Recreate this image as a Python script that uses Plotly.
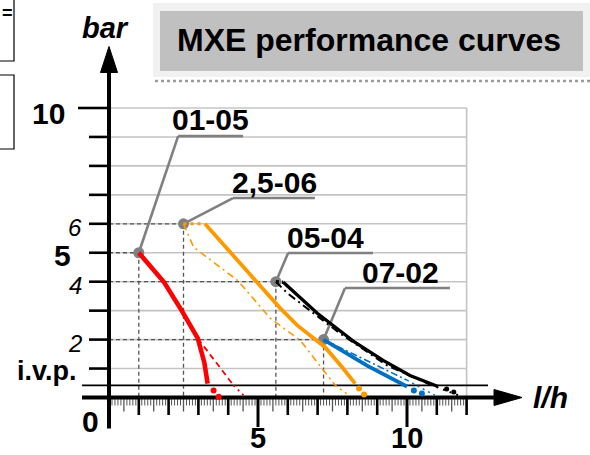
import plotly.graph_objects as go

W, H = 590, 455
FONT = "Arial, 'Liberation Sans', sans-serif"

# ---------------- data ----------------
y_grid_levels = [1, 2, 3, 4, 5, 6, 7, 8, 9, 10]
x_grid_end = 12
ivp_level = 0.42

x_major_ticks = [1, 2, 3, 4, 6, 7, 8, 9, 11, 12]
x_big_ticks = [5, 10]
x_half_ticks = [k + 0.5 for k in range(12)]
x_minor_ticks = [round(k / 10, 1) for k in range(1, 120) if k % 5 != 0]

y_tick_labels = [(10, "<b>10</b>", 30), (6, "<i>6</i>", 24), (5, "<b>5</b>", 30),
                 (4, "<i>4</i>", 24), (2, "<i>2</i>", 24)]
x_tick_labels = [(5, "<b>5</b>"), (10, "<b>10</b>")]

# nominal points (flow l/h, pressure bar)
pump_names = ["01-05", "2,5-06", "05-04", "07-02"]
pump_x = [1.0, 2.5, 5.6, 7.2]
pump_y = [5.0, 6.0, 4.0, 2.0]
callout_elbow_x = [2.32, 4.16, 6.01, 7.92]
callout_elbow_y = [9.03, 6.89, 4.99, 3.78]
callout_end_x = [4.50, 6.91, 8.86, 11.44]
label_x = [3.42, 5.57, 7.25, 9.77]
label_y = [9.59, 7.41, 5.54, 4.33]

# red 01-05
red_solid_x = [1.0, 1.85, 2.47, 2.98, 3.2, 3.31]
red_solid_y = [5.0, 3.98, 2.95, 2.04, 1.2, 0.48]
red_dash_x = [2.98, 4.18]
red_dash_y = [2.04, 0.42]
red_dot_x = [4.18, 4.52]
red_dot_y = [0.42, 0.07]
red_pts_x = [3.51, 3.68]
red_pts_y = [0.24, 0.03]

# orange 2,5-06
orange_dot_top_x = [2.5, 3.2]
orange_dot_top_y = [6.0, 6.0]
orange_solid_x = [3.22, 5.75, 6.32, 7.26, 7.86, 8.26]
orange_solid_y = [6.0, 3.08, 2.49, 1.73, 1.0, 0.48]
orange_dd_x = [2.5, 2.84, 4.31, 5.42, 6.42, 7.19, 7.59]
orange_dd_y = [6.0, 5.19, 4.05, 2.73, 1.97, 0.93, 0.42]
orange_dot_x = [7.59, 8.06]
orange_dot_y = [0.42, 0.07]
orange_pts_x = [8.39, 8.56]
orange_pts_y = [0.31, 0.10]

# black 05-04
black_solid_x = [5.85, 6.99, 8.26, 9.2, 10.1, 11.04]
black_solid_y = [3.98, 2.91, 1.90, 1.28, 0.76, 0.38]
black_dd_x = [5.6, 5.99, 7.09, 7.76, 9.33, 10.77]
black_dd_y = [4.0, 3.6, 2.73, 2.21, 1.11, 0.45]
black_dot_x = [10.77, 11.84]
black_dot_y = [0.45, 0.03]
black_pts_x = [11.33, 11.57]
black_pts_y = [0.29, 0.19]

# blue 07-02
blue_solid_x = [7.2, 8.66, 10.0]
blue_solid_y = [2.0, 1.1, 0.38]
blue_dd_x = [7.2, 8.7, 10.0]
blue_dd_y = [2.0, 1.25, 0.6]
blue_dot_x = [10.0, 10.94]
blue_dot_y = [0.6, 0.07]
blue_pts_x = [10.23, 10.5]
blue_pts_y = [0.24, 0.14]

# ---------------- scale ----------------
X0, SX = 109.0, 29.8     # pixel of x=0, pixels per l/h
Y0, SY = 397.5, 28.95    # pixel of y=0, pixels per bar
xr = [-X0 / SX, (W - X0) / SX]
yr = [-(H - Y0) / SY, Y0 / SY]
dx = 1.0 / SX   # one pixel in x data units
dy = 1.0 / SY   # one pixel in y data units

fig = go.Figure()


def segs(pairs):
    xs, ys = [], []
    for (xa, ya, xb, yb) in pairs:
        xs += [xa, xb, None]
        ys += [ya, yb, None]
    return xs, ys


def line(xs, ys, color, width, dash="solid"):
    fig.add_trace(go.Scatter(x=xs, y=ys, mode="lines",
                             line=dict(color=color, width=width, dash=dash),
                             hoverinfo="skip"))


# grid lines
gx, gy = segs([(0, v, x_grid_end, v) for v in y_grid_levels])
line(gx, gy, "#c4c4c4", 1.6)
line([x_grid_end, x_grid_end], [0, 10], "#c4c4c4", 1.6)

# dashed guide lines to nominal points
pairs = []
for px_, py_ in zip(pump_x, pump_y):
    pairs.append((0, py_, px_, py_))
    pairs.append((px_, py_, px_, 0))
gx, gy = segs(pairs)
line(gx, gy, "#555555", 1.3, "4px,3px")

# i.v.p. line
line([-27 * dx, 379 * dx], [ivp_level, ivp_level], "#000000", 1.6)

# x ticks
gx, gy = segs([(v, 0, v, -8 * dy) for v in x_minor_ticks])
line(gx, gy, "#555555", 1)
gx, gy = segs([(v, 0, v, -14 * dy) for v in x_half_ticks])
line(gx, gy, "#555555", 1.3)
gx, gy = segs([(v, 0, v, -17.5 * dy) for v in x_major_ticks])
line(gx, gy, "#000000", 2.6)
gx, gy = segs([(v, 0, v, -29.5 * dy) for v in x_big_ticks])
line(gx, gy, "#000000", 3)

# y ticks
gx, gy = segs([(-20 * dx if v != 10 else -31 * dx, v, 0, v) for v in y_grid_levels])
line(gx, gy, "#000000", 2.6)

# axes
line([-27 * dx, 385 * dx], [0, 0], "#000000", 4)
line([0, 0], [-31 * dy, 325 * dy], "#000000", 4)
# arrow heads
fig.add_trace(go.Scatter(x=[385 * dx, 413 * dx, 385 * dx, 385 * dx],
                         y=[8 * dy, 0, -8 * dy, 8 * dy], mode="lines",
                         fill="toself", fillcolor="#000000",
                         line=dict(color="#000000", width=1), hoverinfo="skip"))
fig.add_trace(go.Scatter(x=[-8.5 * dx, 0, 8.5 * dx, -8.5 * dx],
                         y=[325 * dy, 351 * dy, 325 * dy, 325 * dy], mode="lines",
                         fill="toself", fillcolor="#000000",
                         line=dict(color="#000000", width=1), hoverinfo="skip"))

# callout lines
pairs = []
for i in range(4):
    pairs.append((pump_x[i], pump_y[i], callout_elbow_x[i], callout_elbow_y[i]))
    pairs.append((callout_elbow_x[i], callout_elbow_y[i], callout_end_x[i], callout_elbow_y[i]))
gx, gy = segs(pairs)
line(gx, gy, "#808080", 2.6)

# point markers
fig.add_trace(go.Scatter(x=pump_x, y=pump_y, mode="markers",
                         marker=dict(color="#808080", size=11), hoverinfo="skip"))

RED, ORANGE, BLACK, BLUE = "#ff0000", "#ff9900", "#000000", "#0070c0"

# red
line(red_dash_x, red_dash_y, RED, 1.8, "6px,4px")
line(red_dot_x, red_dot_y, RED, 1.8, "2px,4px")
line(red_solid_x, red_solid_y, RED, 4.6)
fig.add_trace(go.Scatter(x=red_pts_x, y=red_pts_y, mode="markers",
                         marker=dict(color=RED, size=6), hoverinfo="skip"))

# orange
line(orange_dd_x, orange_dd_y, ORANGE, 1.6, "7px,4px,2px,4px")
line(orange_dot_x, orange_dot_y, ORANGE, 1.6, "2px,4px")
line(orange_dot_top_x, orange_dot_top_y, ORANGE, 3, "3px,4px")
line(orange_solid_x, orange_solid_y, ORANGE, 3.8)
fig.add_trace(go.Scatter(x=orange_pts_x, y=orange_pts_y, mode="markers",
                         marker=dict(color=ORANGE, size=6), hoverinfo="skip"))

# blue
line(blue_dd_x, blue_dd_y, BLUE, 1.6, "7px,3px,2px,3px")
line(blue_dot_x, blue_dot_y, BLUE, 1.6, "2px,4px")
line(blue_solid_x, blue_solid_y, BLUE, 3.8)
fig.add_trace(go.Scatter(x=blue_pts_x, y=blue_pts_y, mode="markers",
                         marker=dict(color=BLUE, size=6), hoverinfo="skip"))

# black
line(black_dd_x, black_dd_y, BLACK, 2, "8px,4px,2px,4px")
line(black_dot_x, black_dot_y, BLACK, 2, "2px,5px")
line(black_solid_x, black_solid_y, BLACK, 3.3)
line([pump_x[2], black_solid_x[0]], [pump_y[2], black_solid_y[0]], BLACK, 3.3, "3px,3px")
fig.add_trace(go.Scatter(x=black_pts_x, y=black_pts_y, mode="markers",
                         marker=dict(color=BLACK, size=5), hoverinfo="skip"))

# ---------------- annotations ----------------
ann = []
for name, lx, ly in zip(pump_names, label_x, label_y):
    ann.append(dict(x=lx, y=ly, text="<b>%s</b>" % name, showarrow=False,
                    font=dict(size=30, color="#000000", family=FONT),
                    xanchor="center", yanchor="middle"))
for v, t, s in y_tick_labels:
    xpos = -47 * dx if s == 30 else -34 * dx
    ypos = v - (4 * dy if s == 24 else 3 * dy)
    if v == 10:
        xpos = -61 * dx
        ypos = v - 5 * dy
    ann.append(dict(x=xpos, y=ypos, text=t, showarrow=False,
                    font=dict(size=s, color="#000000", family=FONT),
                    xanchor="center", yanchor="middle"))
ann.append(dict(x=-62 * dx, y=ivp_level + 14 * dy, text="<b>i.v.p.</b>", showarrow=False,
                font=dict(size=27, color="#000000", family=FONT),
                xanchor="center", yanchor="middle"))
ann.append(dict(x=-19 * dx, y=-23.5 * dy, text="<b>0</b>", showarrow=False,
                font=dict(size=30, color="#000000", family=FONT),
                xanchor="center", yanchor="middle"))
for v, t in x_tick_labels:
    ann.append(dict(x=v, y=-40 * dy, text=t, showarrow=False,
                    font=dict(size=29, color="#000000", family=FONT),
                    xanchor="center", yanchor="middle"))
ann.append(dict(x=-4 * dx, y=370 * dy, text="<b><i>bar</i></b>", showarrow=False,
                font=dict(size=29, color="#000000", family=FONT),
                xanchor="center", yanchor="middle"))
ann.append(dict(x=441 * dx, y=0, text="<b><i>l/h</i></b>", showarrow=False,
                font=dict(size=30, color="#000000", family=FONT),
                xanchor="center", yanchor="middle"))
# title
ann.append(dict(x=369 / W, y=1 - 40 / H, xref="paper", yref="paper",
                text="<b>MXE performance curves</b>", showarrow=False,
                font=dict(size=32, color="#000000", family=FONT),
                xanchor="center", yanchor="middle"))
ann.append(dict(x=0 / W, y=1 - 13 / H, xref="paper", yref="paper",
                text="<b>=</b>", showarrow=False,
                font=dict(size=18, color="#000000", family=FONT),
                xanchor="left", yanchor="middle"))

shapes = [
    dict(type="rect", xref="paper", yref="paper", x0=153 / W, x1=1.02, y0=1 - 77 / H, y1=1 - 3 / H,
         fillcolor="#f1f1f1", line=dict(width=0), layer="below"),
    dict(type="rect", xref="paper", yref="paper", x0=160 / W, x1=583 / W, y0=1 - 71 / H, y1=1 - 11 / H,
         fillcolor="#c0c0c0", line=dict(width=0), layer="below"),
    dict(type="line", xref="paper", yref="paper", x0=155 / W, x1=1.0, y0=1 - 81 / H, y1=1 - 81 / H,
         line=dict(color="#9a9a9a", width=2.5, dash="dot")),
    dict(type="rect", xref="paper", yref="paper", x0=-10 / W, x1=14 / W, y0=1 - 61 / H, y1=1.02,
         fillcolor="rgba(0,0,0,0)", line=dict(color="#000000", width=1.2)),
    dict(type="rect", xref="paper", yref="paper", x0=-10 / W, x1=14 / W, y0=1 - 149 / H, y1=1 - 75 / H,
         fillcolor="rgba(0,0,0,0)", line=dict(color="#000000", width=1.2)),
]

fig.update_layout(
    width=W, height=H, margin=dict(l=0, r=0, t=0, b=0),
    paper_bgcolor="#ffffff", plot_bgcolor="#ffffff",
    showlegend=False,
    xaxis=dict(range=xr, visible=False, fixedrange=True),
    yaxis=dict(range=yr, visible=False, fixedrange=True),
    annotations=ann, shapes=shapes,
)

fig.write_html("out.html", config={"displayModeBar": False},
               post_script="document.body.style.margin='0';document.body.style.overflow='hidden';")
